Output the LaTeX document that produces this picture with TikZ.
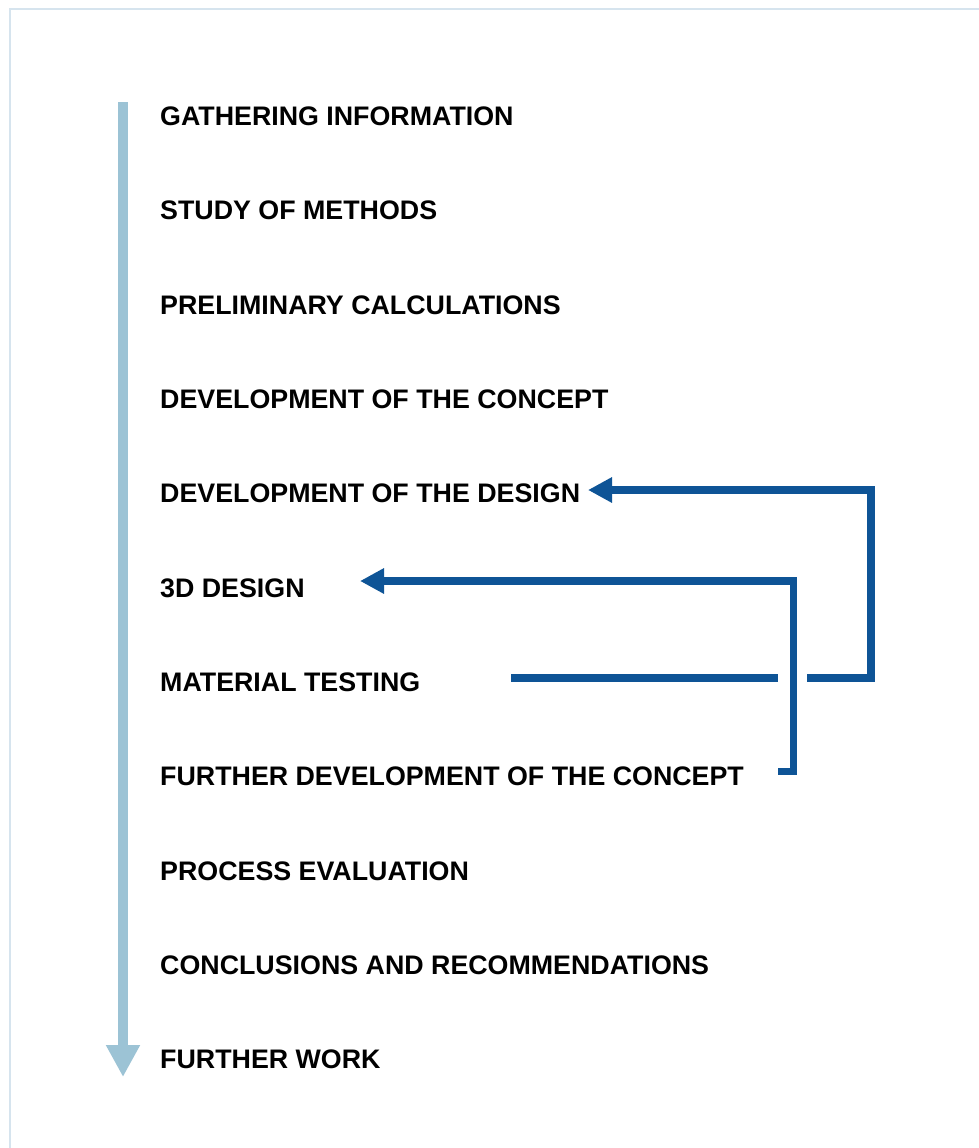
\documentclass[tikz,border=0pt]{standalone}
\usepackage{fontspec}
\setmainfont{Liberation Sans}
\usetikzlibrary{arrows.meta}
\definecolor{flowblue}{HTML}{0E5496}
\definecolor{timeline}{HTML}{9CC3D5}
\definecolor{framecol}{HTML}{D6E4EE}
\tikzset{
  steplabel/.style={anchor=base west, inner sep=0pt, font=\fontsize{26.8}{30}\selectfont\bfseries, text=black},
  feedback/.style={draw=flowblue, line width=7.7pt, line join=miter, -{Triangle[length=24pt,width=24pt]}},
  casing/.style={draw=white, line width=29pt},
}
\begin{document}
\begin{tikzpicture}[x=1pt,y=-1pt]
\useasboundingbox (0,0) rectangle (979,1148);
\fill[white] (0,0) rectangle (979,1148);
\draw[framecol, line width=2pt] (979,9) -- (10,9) -- (10,1148);

% timeline arrow
\coordinate (tlstart) at (123,102);
\coordinate (tlend) at (123,1077);
\draw[timeline, line width=10pt, -{Triangle[length=32pt,width=32pt]}] (tlstart) -- (tlend);

% steps
\node[steplabel] (s1) at (160,125.6) {GATHERING INFORMATION};
\node[steplabel] (s2) at (160,219.9) {STUDY OF METHODS};
\node[steplabel] (s3) at (160,314.2) {PRELIMINARY CALCULATIONS};
\node[steplabel] (s4) at (160,408.5) {DEVELOPMENT OF THE CONCEPT};
\node[steplabel] (s5) at (160,502.8) {DEVELOPMENT OF THE DESIGN};
\node[steplabel] (s6) at (160,597.1) {3D DESIGN};
\node[steplabel] (s7) at (160,691.4) {MATERIAL TESTING};
\node[steplabel] (s8) at (160,785.7) {FURTHER DEVELOPMENT OF THE CONCEPT};
\node[steplabel] (s9) at (160,880.0) {PROCESS EVALUATION};
\node[steplabel] (s10) at (160,974.3) {CONCLUSIONS AND RECOMMENDATIONS};
\node[steplabel] (s11) at (160,1068.6) {FURTHER WORK};

% feedback loop 1: material testing -> development of the design
\coordinate (mtout) at (511,678);
\coordinate (c1) at (871,678);
\coordinate (ddin) at (588,490);
\draw[feedback] (mtout) -- (c1) |- (ddin);

% feedback loop 2: further development -> 3D design
\coordinate (fdout) at (778,771.5);
\coordinate (c2) at (793.5,771.5);
\coordinate (c3) at (793.5,581);
\coordinate (ddsin) at (360,581);
\draw[casing] (792,700) -- (792,656);
\draw[feedback] (fdout) -- (c2) -- (c3) -- (ddsin);
\end{tikzpicture}
\end{document}
